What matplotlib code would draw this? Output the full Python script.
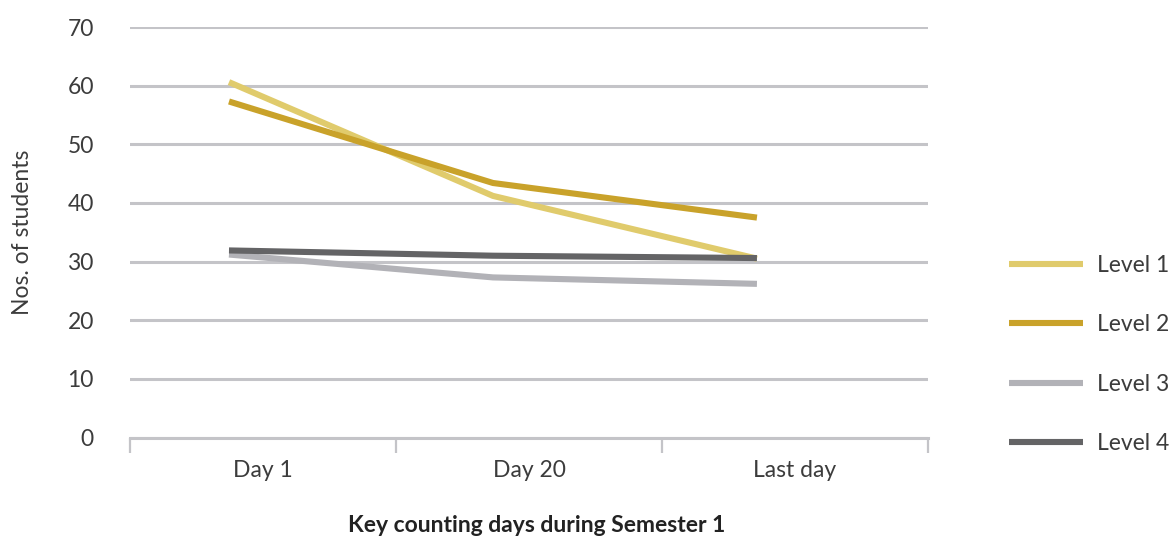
import numpy as np
import matplotlib
matplotlib.use("Agg")
import matplotlib.pyplot as plt

# values
days = ["Day 1", "Day 20", "Last day"]
level_1 = [60.6, 41.2, 30.5]
level_2 = [57.3, 43.4, 37.5]
level_3 = [31.2, 27.3, 26.2]
level_4 = [31.9, 31.0, 30.6]
series_names = ["Level 1", "Level 2", "Level 3", "Level 4"]

colors = ["#e0cb6c", "#c9a22a", "#b2b2b7", "#646466"]
text_col = "#3c3c3c"
grid_col = "#c4c4c8"
fs = 16.5

plt.rcParams["font.family"] = ["Lato", "DejaVu Sans"]

fig = plt.figure(figsize=(11.73, 5.37), dpi=100)
ax = fig.add_axes([130 / 1173, 1 - 437.5 / 537, 798 / 1173, 410.5 / 537])

x = np.arange(len(days))
for vals, name, c in zip([level_1, level_2, level_3, level_4], series_names, colors):
    ax.plot(x, vals, color=c, lw=4.4, label=name, solid_capstyle="butt", zorder=3)

# category axis: lines sit a bit left of the label centres, as in the original
xlo, xhi = -0.375, 2.648
ax.set_xlim(xlo, xhi)
ax.set_ylim(0, 70)
bounds = np.linspace(xlo, xhi, len(days) + 1)
ax.set_xticks(bounds)
ax.set_xticklabels([])
ax.set_xticks((bounds[:-1] + bounds[1:]) / 2, minor=True)
ax.set_xticklabels(days, minor=True)
ax.tick_params(axis="x", which="major", length=11, width=1.6, color=grid_col)
ax.tick_params(axis="x", which="minor", length=0, pad=16, labelsize=fs, labelcolor=text_col)

ax.set_yticks(np.arange(0, 71, 10))
ax.tick_params(axis="y", length=0, pad=26, labelsize=fs, labelcolor=text_col)
ax.yaxis.grid(True, color=grid_col, lw=2.2)
ax.set_axisbelow(True)

for s in ["top", "right", "left"]:
    ax.spines[s].set_visible(False)
ax.spines["bottom"].set_color(grid_col)
ax.spines["bottom"].set_linewidth(2.2)

ax.set_ylabel("Nos. of students", fontsize=fs, color=text_col)
ax.yaxis.set_label_coords(-97 / 798, 0.5)
fig.text(537 / 1173, 1 - 526 / 537, "Key counting days during Semester 1",
         ha="center", va="center", fontsize=fs, fontweight="bold", color="#222222")

fig.legend(loc="upper left", bbox_to_anchor=(1009 / 1173, 1 - 255 / 537),
           frameon=False, fontsize=fs, handlelength=3.25, handletextpad=0.6,
           labelspacing=1.67, borderpad=0, borderaxespad=0, labelcolor=text_col)

fig.savefig("out.png", dpi=100)
